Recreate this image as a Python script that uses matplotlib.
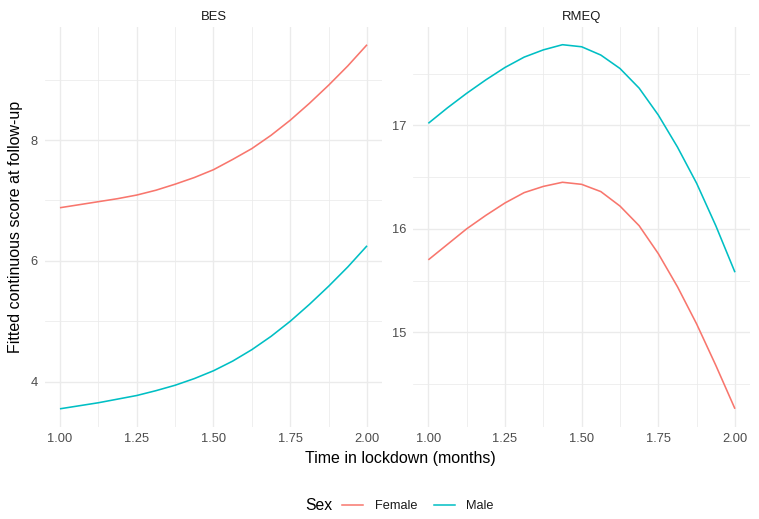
import matplotlib
matplotlib.use("Agg")
import matplotlib.pyplot as plt
from matplotlib.ticker import FixedLocator
from matplotlib.lines import Line2D

plt.rcParams["font.family"] = ["Liberation Sans", "DejaVu Sans"]

# ---- data ----
time = [1.0, 1.0625, 1.125, 1.1875, 1.25, 1.3125, 1.375, 1.4375, 1.5,
        1.5625, 1.625, 1.6875, 1.75, 1.8125, 1.875, 1.9375, 2.0]

bes_female = [6.88, 6.93, 6.98, 7.03, 7.09, 7.17, 7.27, 7.38, 7.51,
              7.68, 7.86, 8.08, 8.33, 8.61, 8.91, 9.23, 9.58]
bes_male = [3.55, 3.60, 3.65, 3.71, 3.77, 3.85, 3.94, 4.05, 4.18,
            4.34, 4.53, 4.75, 5.00, 5.28, 5.58, 5.90, 6.25]

rmeq_female = [15.70, 15.85, 16.00, 16.13, 16.25, 16.35, 16.41, 16.45, 16.43,
               16.36, 16.22, 16.03, 15.76, 15.44, 15.08, 14.68, 14.26]
rmeq_male = [17.02, 17.17, 17.31, 17.44, 17.56, 17.66, 17.73, 17.78, 17.76,
             17.68, 17.55, 17.36, 17.10, 16.79, 16.44, 16.03, 15.58]

panels = ["BES", "RMEQ"]
sexes = ["Female", "Male"]
colors = {"Female": "#F8766D", "Male": "#00BFC4"}

x_major = [1.00, 1.25, 1.50, 1.75, 2.00]
x_minor = [1.125, 1.375, 1.625, 1.875]
x_labels = ["1.00", "1.25", "1.50", "1.75", "2.00"]

y_major = {"BES": [4, 6, 8], "RMEQ": [15, 16, 17]}
y_minor = {"BES": [3, 5, 7, 9], "RMEQ": [14.5, 15.5, 16.5, 17.5]}

data = {"BES": {"Female": bes_female, "Male": bes_male},
        "RMEQ": {"Female": rmeq_female, "Male": rmeq_male}}

# ---- figure ----
W, H = 759, 519
fig = plt.figure(figsize=(W / 100, H / 100), dpi=100)
fig.patch.set_facecolor("white")

axes_px = {"BES": (44.6, 382.4), "RMEQ": (413.0, 750.3)}
top_px, bot_px = 26.5, 427.0

grid_col = "#EBEBEB"
for name in panels:
    l, r = axes_px[name]
    ax = fig.add_axes([l / W, 1 - bot_px / H, (r - l) / W, (bot_px - top_px) / H])
    ax.set_facecolor("white")
    for s in ax.spines.values():
        s.set_visible(False)

    allv = data[name]["Female"] + data[name]["Male"]
    lo, hi = min(allv), max(allv)
    pad = 0.05 * (hi - lo)
    ax.set_ylim(lo - pad, hi + pad)
    ax.set_xlim(0.95, 2.05)

    ax.xaxis.set_major_locator(FixedLocator(x_major))
    ax.xaxis.set_minor_locator(FixedLocator(x_minor))
    ax.set_xticklabels(x_labels)
    ax.yaxis.set_major_locator(FixedLocator(y_major[name]))
    ax.yaxis.set_minor_locator(FixedLocator(y_minor[name]))
    ax.set_yticklabels([str(v) for v in y_major[name]])

    ax.grid(which="major", color=grid_col, linewidth=1.0, zorder=0)
    ax.grid(which="minor", color=grid_col, linewidth=0.55, zorder=0)
    ax.set_axisbelow(True)
    ax.tick_params(which="both", length=0)
    ax.tick_params(axis="x", labelsize=9.3, labelcolor="#4D4D4D", pad=4.5)
    ax.tick_params(axis="y", labelsize=9.3, labelcolor="#4D4D4D", pad=5)

    for sex in sexes:
        ax.plot(time, data[name][sex], color=colors[sex], linewidth=1.15,
                solid_capstyle="butt", solid_joinstyle="round", zorder=3)

    ax.set_title(name, fontsize=9.4, color="#1A1A1A", pad=5)

fig.text(400 / W, 1 - 458 / H, "Time in lockdown (months)", ha="center",
         va="center", fontsize=11.5, color="black")
fig.text(16 / W, 1 - 227 / H, "Fitted continuous score at follow-up",
         ha="center", va="center", rotation=90, fontsize=11.5, color="black")

# legend
fig.text(305 / W, 1 - 506 / H, "Sex", ha="left", va="center",
         fontsize=11.3, color="black")
handles = [Line2D([0], [0], color=colors[s], linewidth=1.1) for s in sexes]
leg = fig.legend(handles, sexes, loc="center left",
                 bbox_to_anchor=(342 / W, 1 - 506 / H), ncol=2, frameon=False,
                 fontsize=9.2, handlelength=1.65, handletextpad=0.9,
                 columnspacing=1.3, borderpad=0, borderaxespad=0)
for t in leg.get_texts():
    t.set_color("#1A1A1A")

fig.savefig("out.png", dpi=100, facecolor="white")
